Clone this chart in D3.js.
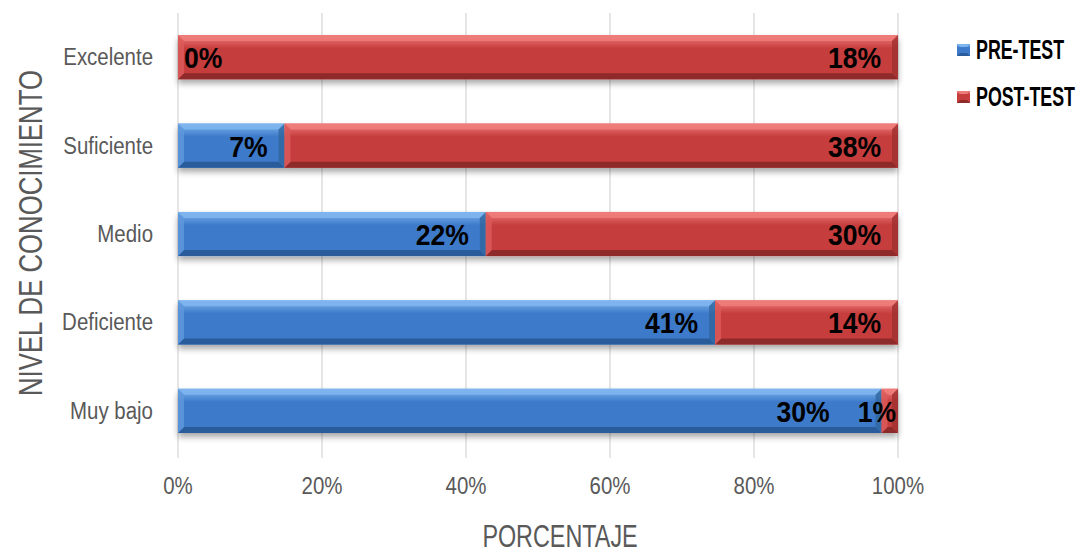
<!DOCTYPE html>
<html><head><meta charset="utf-8">
<script src="https://cdn.jsdelivr.net/npm/d3@7"></script>
<style>body{margin:0;background:#fff}svg{display:block}</style>
</head><body><svg id="c" width="1083" height="554"></svg>
<script>
const categories = ["Excelente","Suficiente","Medio","Deficiente","Muy bajo"];
const preTest = [0, 6.6, 22.4, 41.1, 30];
const postTest = [18, 38, 30, 14, 0.7];
const seriesNames = ["PRE-TEST","POST-TEST"];
const xTicks = [0, 0.2, 0.4, 0.6, 0.8, 1];

const W = 1083, H = 554;
const m = {left:178, right:185, top:13, bottom:99};
const svg = d3.select("#c");
const font = "'Liberation Sans',Arial,sans-serif";

const x = d3.scaleLinear().domain([0,1]).range([m.left, W - m.right]);
const y = d3.scaleBand().domain(categories).range([m.top, H - m.bottom]).paddingInner(0.5).paddingOuter(0.25);

const colors = {
  "PRE-TEST": {main:"#3d7aca", top:"#7fb5ee", bot:"#2a5c9c", left:"#5f98dc", right:"#31679f"},
  "POST-TEST": {main:"#c63d3d", top:"#ee7c7a", bot:"#8f2a2a", left:"#dc5b5a", right:"#9f3030"}
};

function txt(g, tx, ty, sx, opts){
  const t = g.append("text").attr("transform",`translate(${tx},${ty}) ${opts.rot?`rotate(${opts.rot})`:""} scale(${sx},1)`)
    .attr("text-anchor", opts.anchor||"start").attr("font-family",font)
    .attr("font-size",opts.size).attr("fill",opts.fill||"#595959")
    .attr("font-weight",opts.weight||"normal").text(opts.text);
  return t;
}

const defs = svg.append("defs");
Object.entries(colors).forEach(([k,c],i)=>{
  const g = defs.append("linearGradient").attr("id","g"+i).attr("x1",0).attr("y1",0).attr("x2",0).attr("y2",1);
  g.append("stop").attr("offset","0%").attr("stop-color",c.top);
  g.append("stop").attr("offset","30%").attr("stop-color",c.main);
  g.append("stop").attr("offset","100%").attr("stop-color",c.main);
});
const f = defs.append("filter").attr("id","sh").attr("x","-5%").attr("y","-20%").attr("width","110%").attr("height","160%");
f.append("feGaussianBlur").attr("in","SourceAlpha").attr("stdDeviation",3);
f.append("feOffset").attr("dx",0).attr("dy",4).attr("result","b");
f.append("feComponentTransfer").append("feFuncA").attr("type","linear").attr("slope",0.35);
const mg = f.append("feMerge"); mg.append("feMergeNode"); mg.append("feMergeNode").attr("in","SourceGraphic");

// gridlines
svg.append("g").selectAll("line").data(xTicks).join("line")
  .attr("x1",d=>x(d)).attr("x2",d=>x(d)).attr("y1",m.top).attr("y2",H-m.bottom+3)
  .attr("stroke","#d9d9d9").attr("stroke-width",1.3);

// x tick labels
const tg = svg.append("g");
xTicks.forEach(d=>txt(tg, x(d), 494, 0.87, {anchor:"middle", size:23.5, text:d3.format(".0%")(d)}));

// category labels
const cg = svg.append("g");
categories.forEach(c=>txt(cg, m.left-25, y(c)+y.bandwidth()/2+8, 0.87, {anchor:"end", size:23.5, text:c}));

// titles
txt(svg, 560, 547, 0.73, {anchor:"middle", size:32, text:"PORCENTAJE"});
txt(svg, 42, 233, 0.78, {anchor:"middle", size:33, rot:-90, text:"NIVEL DE CONOCIMIENTO"});

// stacked data
const rows = categories.map((c,i)=>({cat:c, vals:[preTest[i],postTest[i]], tot:preTest[i]+postTest[i]}));

const B = 6;
function bevelBar(g, x0, x1, y0, h, c, gi){
  const w = x1-x0; if (w<=0) return;
  const b = Math.min(B, w/2);
  g.append("rect").attr("x",x0).attr("y",y0).attr("width",w).attr("height",h).attr("fill",`url(#g${gi})`);
  const y1 = y0+h;
  g.append("polygon").attr("points",`${x0},${y0} ${x1},${y0} ${x1-b},${y0+B} ${x0+b},${y0+B}`).attr("fill",c.top).attr("opacity",0.9);
  g.append("polygon").attr("points",`${x0},${y1} ${x1},${y1} ${x1-b},${y1-B} ${x0+b},${y1-B}`).attr("fill",c.bot);
  g.append("polygon").attr("points",`${x0},${y0} ${x0+b},${y0+B} ${x0+b},${y1-B} ${x0},${y1}`).attr("fill",c.left).attr("opacity",0.8);
  g.append("polygon").attr("points",`${x1},${y0} ${x1-b},${y0+B} ${x1-b},${y1-B} ${x1},${y1}`).attr("fill",c.right).attr("opacity",0.8);
}

const barsG = svg.append("g");
rows.forEach(r=>{
  const g = barsG.append("g").attr("filter","url(#sh)");
  let acc = 0;
  r.vals.forEach((v,si)=>{
    const a = acc/r.tot, bEnd = (acc+v)/r.tot; acc += v;
    bevelBar(g, x(a), x(bEnd), y(r.cat), y.bandwidth(), colors[seriesNames[si]], si);
  });
});

// labels
const lblG = svg.append("g");
const LS = 0.9;
rows.forEach(r=>{
  let acc = 0;
  const segs = r.vals.map(v=>{ const s={v, x0:x(acc/r.tot), x1:x((acc+v)/r.tot)}; acc+=v; return s; });
  const cy = y(r.cat)+y.bandwidth()/2 + 11;
  const texts = segs.map(s=>txt(lblG, 0, cy, LS, {size:29.5, weight:"bold", fill:"#000", text:Math.round(s.v)+"%"}));
  const widths = texts.map(t=>t.node().getComputedTextLength()*LS);
  let nextStart = Infinity;
  for (let i=segs.length-1;i>=0;i--){
    const s = segs[i], w = widths[i];
    let right;
    if (s.x1 - s.x0 <= 0) right = s.x0 + 6 + w;
    else if (w + 20 > s.x1 - s.x0) right = s.x1 - 2;
    else right = s.x1 - 17;
    right = Math.min(right, nextStart - 28);
    texts[i].attr("transform",`translate(${right - w},${cy}) scale(${LS},1)`);
    nextStart = right - w;
  }
});

// legend
const lg = svg.append("g");
seriesNames.forEach((n,i)=>{
  const ly = 50 + i*47;
  const c = colors[n];
  lg.append("rect").attr("x",957).attr("y",ly-6).attr("width",13).attr("height",12).attr("fill",`url(#g${i})`);
  lg.append("polygon").attr("points",`957,${ly-6} 970,${ly-6} 967,${ly-3} 960,${ly-3}`).attr("fill",c.top);
  lg.append("polygon").attr("points",`957,${ly+6} 970,${ly+6} 967,${ly+3} 960,${ly+3}`).attr("fill",c.bot);
  txt(lg, 976, ly+9, 0.66, {size:27, weight:"bold", fill:"#000", text:n});
});
</script></body></html>
